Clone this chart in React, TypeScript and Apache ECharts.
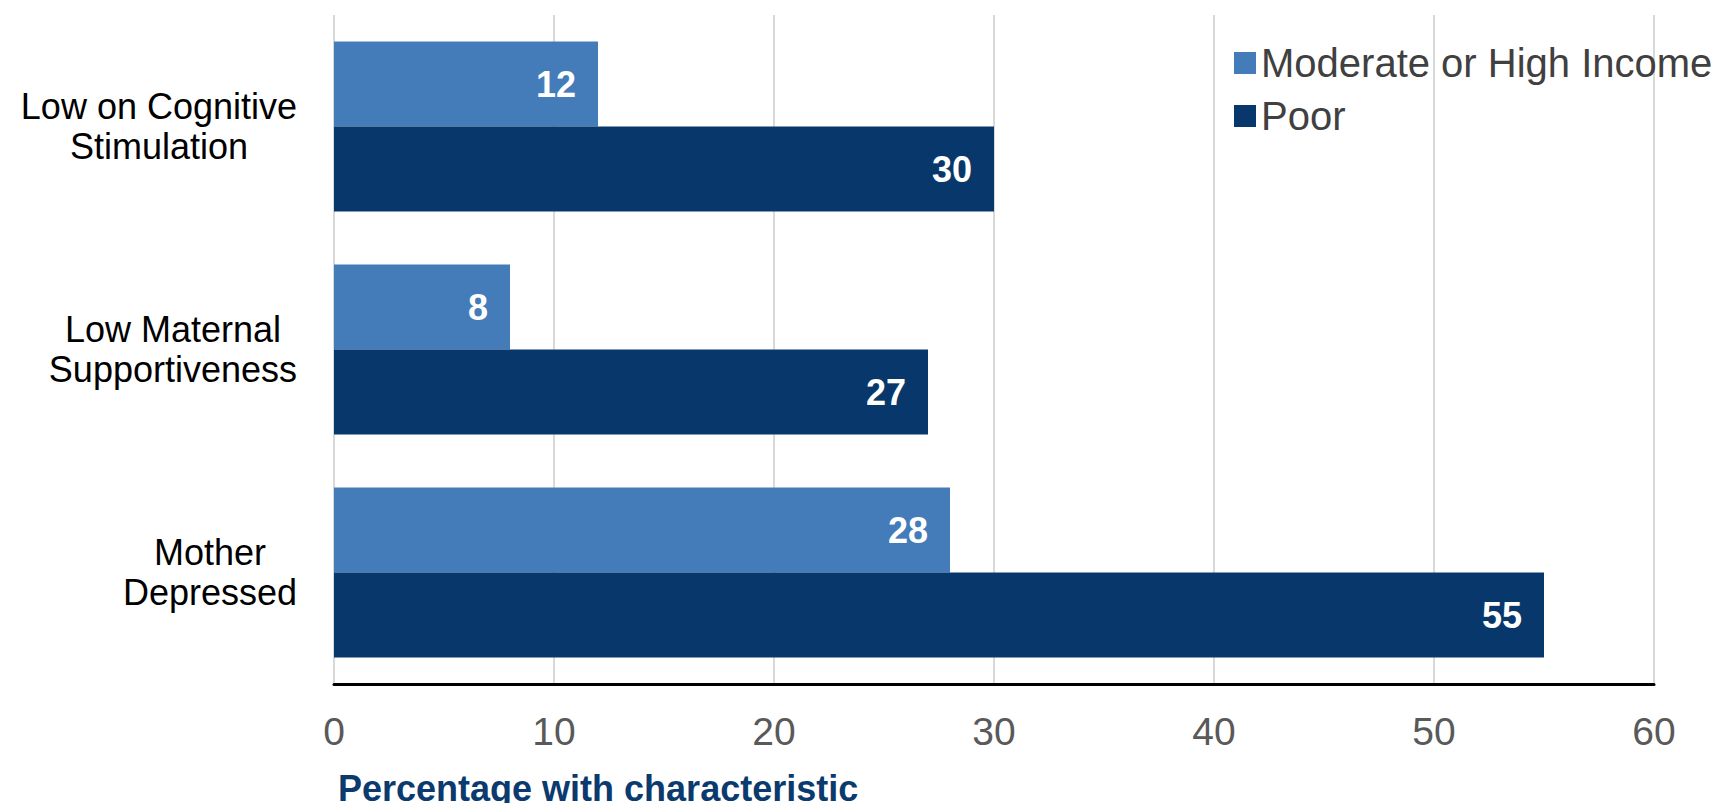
import React, { useEffect, useRef } from "react";
import * as echarts from "echarts";

const categories = [
  "Low on Cognitive\nStimulation",
  "Low Maternal\nSupportiveness",
  "Mother\nDepressed",
];
const seriesNames = ["Moderate or High Income", "Poor"];
const moderateValues = [12, 8, 28];
const poorValues = [30, 27, 55];
const xTicks = [0, 10, 20, 30, 40, 50, 60];
const axisTitle = "Percentage with characteristic";

const LIGHT = "#437cb9";
const DARK = "#08386b";
const FONT = "Liberation Sans, Arial, sans-serif";

export default function App() {
  const ref = useRef<HTMLDivElement>(null);
  useEffect(() => {
    if (!ref.current) return;
    const chart = echarts.init(ref.current, null, { renderer: "svg" });
    const label = {
      show: true,
      position: "insideRight",
      distance: 22,
      color: "#ffffff",
      fontFamily: FONT,
      fontWeight: "bold",
      fontSize: 36,
    };
    chart.setOption({
      animation: false,
      backgroundColor: "#ffffff",
      title: {
        text: axisTitle,
        left: 338,
        top: 770,
        padding: 0,
        textStyle: { fontFamily: FONT, fontWeight: "bold", fontSize: 36, color: "#0b3a6e" },
      },
      legend: {
        orient: "vertical",
        left: 1229,
        top: 38,
        itemWidth: 22,
        itemHeight: 22,
        itemGap: 13,
        icon: "rect",
        data: seriesNames,
        textStyle: { fontFamily: FONT, fontSize: 40, color: "#404040" },
      },
      grid: { left: 334, right: 70, top: 15, bottom: 127, containLabel: false },
      xAxis: {
        type: "value",
        min: xTicks[0],
        max: xTicks[xTicks.length - 1],
        interval: 10,
        axisLine: { show: true, lineStyle: { color: "#000000", width: 3 } },
        axisTick: { show: false },
        splitLine: { show: true, lineStyle: { color: "#d9d9d9", width: 2 } },
        axisLabel: { margin: 28, fontFamily: FONT, fontSize: 39, color: "#595959" },
      },
      yAxis: {
        type: "category",
        inverse: true,
        data: categories,
        axisLine: { show: false },
        axisTick: { show: false },
        axisLabel: {
          margin: 37,
          align: "right",
          fontFamily: FONT,
          fontSize: 36,
          lineHeight: 40,
          color: "#000000",
          formatter: (v: string) =>
            v
              .split("\n")
              .map((s) => `{c|${s}}`)
              .join("\n"),
          rich: {
            c: {
              align: "center",
              fontFamily: FONT,
              fontSize: 36,
              lineHeight: 40,
              color: "#000000",
            },
          },
        },
      },
      series: [
        {
          name: seriesNames[0],
          type: "bar",
          data: moderateValues,
          barWidth: 85,
          barGap: "0%",
          itemStyle: { color: LIGHT },
          label,
        },
        {
          name: seriesNames[1],
          type: "bar",
          data: poorValues,
          barWidth: 85,
          barGap: "0%",
          itemStyle: { color: DARK },
          label,
        },
      ],
    });
    return () => chart.dispose();
  }, []);
  return <div ref={ref} style={{ width: 1724, height: 811, margin: -8 }} />;
}
